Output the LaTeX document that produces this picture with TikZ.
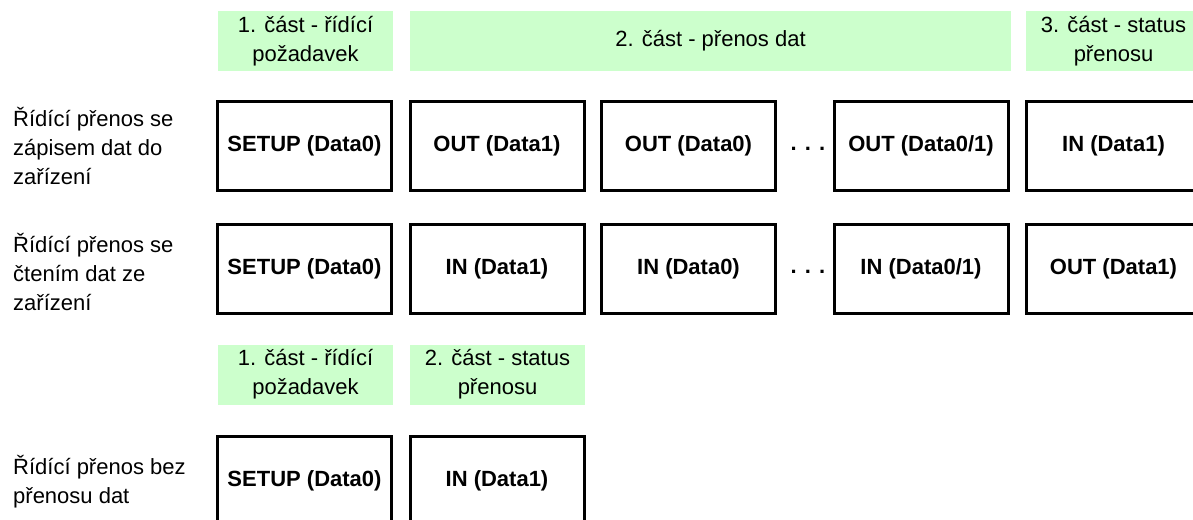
\documentclass[tikz,border=0pt]{standalone}
\usepackage{fontspec}
\setmainfont{Liberation Sans}
\definecolor{partgreen}{RGB}{204,255,204}
\begin{document}
\begin{tikzpicture}[x=1pt,y=-1pt,
  pkt/.style={draw=black, line width=3pt, minimum width=174pt, minimum height=89pt, inner sep=0pt, font=\fontsize{22}{28}\selectfont\bfseries},
  part/.style={fill=partgreen, minimum height=60pt, inner sep=0pt, align=center, font=\fontsize{22}{29}\selectfont},
  lbl/.style={anchor=west, align=left, font=\fontsize{22}{29}\selectfont, inner sep=0pt},
  dots/.style={inner sep=0pt, font=\fontsize{22}{28}\selectfont\bfseries}]
\useasboundingbox (0,0) rectangle (1193,519);
\clip (0,0) rectangle (1193,519);
% top parts
\node[part, minimum width=175pt] (p11) at (305.5,41) {1. část - řídící\\požadavek};
\node[part, minimum width=601pt] (p12) at (710.5,41) {2. část - přenos dat};
\node[part, minimum width=175pt] (p13) at (1113.5,41) {3. část - status\\přenosu};
% row 1
\node[lbl] (l1) at (13,146) {Řídící přenos se\\zápisem dat do\\zařízení};
\node[pkt] (a1) at (304.5,146) {SETUP (Data0)};
\node[pkt] (a2) at (497,146) {OUT (Data1)};
\node[pkt] (a3) at (688.5,146) {OUT (Data0)};
\node[dots] (ad) at (808,149) {. . .};
\node[pkt] (a4) at (921,146) {OUT (Data0/1)};
\node[pkt] (a5) at (1113.5,146) {IN (Data1)};
% row 2
\node[lbl] (l2) at (13,272) {Řídící přenos se\\čtením dat ze\\zařízení};
\node[pkt] (b1) at (304.5,268.5) {SETUP (Data0)};
\node[pkt] (b2) at (497,268.5) {IN (Data1)};
\node[pkt] (b3) at (688.5,268.5) {IN (Data0)};
\node[dots] (bd) at (808,271.5) {. . .};
\node[pkt] (b4) at (921,268.5) {IN (Data0/1)};
\node[pkt] (b5) at (1113.5,268.5) {OUT (Data1)};
% middle parts
\node[part, minimum width=175pt] (p21) at (305.5,374.5) {1. část - řídící\\požadavek};
\node[part, minimum width=175pt] (p22) at (497.5,374.5) {2. část - status\\přenosu};
% row 3
\node[lbl] (l3) at (13,482) {Řídící přenos bez\\přenosu dat};
\node[pkt] (c1) at (304.5,480.5) {SETUP (Data0)};
\node[pkt] (c2) at (497,480.5) {IN (Data1)};
\end{tikzpicture}
\end{document}
